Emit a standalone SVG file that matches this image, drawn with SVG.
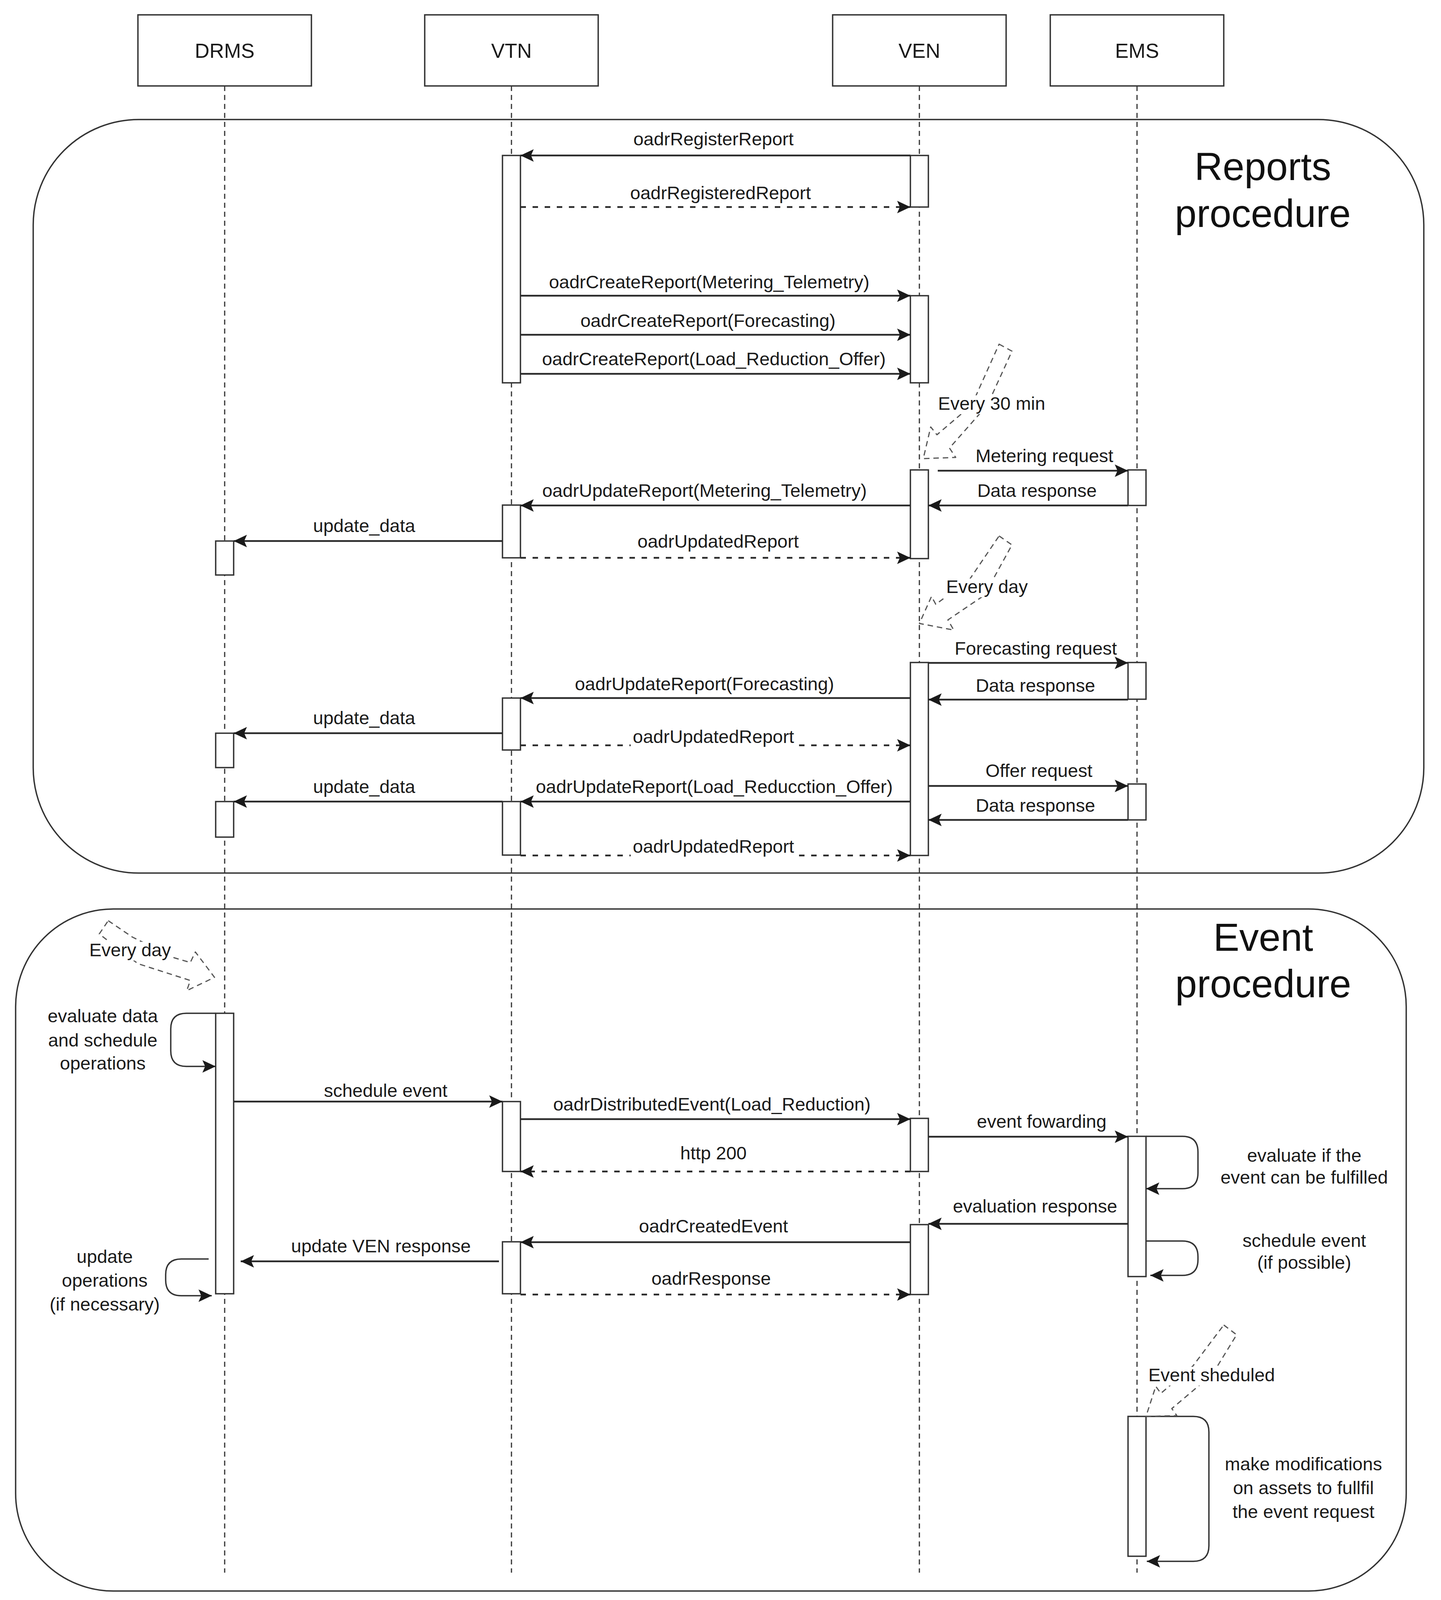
<svg xmlns="http://www.w3.org/2000/svg" width="3688" height="4113" viewBox="0 0 3688 4113">
<defs>
<marker id="arr" viewBox="0 0 34 32" refX="34" refY="16" markerWidth="34" markerHeight="32" markerUnits="userSpaceOnUse" orient="auto"><path d="M0,0 L34,16 L0,32 L7,16 z" fill="#1a1a1a"/></marker>
</defs>
<style>
.frame{fill:none;stroke:#333;stroke-width:3.5}
.box{fill:#fff;stroke:#333;stroke-width:3.5}
.act{fill:#fff;stroke:#333;stroke-width:3.5}
.life{fill:none;stroke:#333;stroke-width:3;stroke-dasharray:13 10}
.msg{fill:none;stroke:#2a2a2a;stroke-width:4.5;marker-end:url(#arr)}
.ret{fill:none;stroke:#2a2a2a;stroke-width:4.5;stroke-dasharray:14 17;marker-end:url(#arr)}
.loop{fill:none;stroke:#333;stroke-width:3.5;marker-end:url(#arr)}
.note{fill:none;stroke:#555;stroke-width:3;stroke-dasharray:14 10;stroke-linejoin:round}
.t{font-family:"Liberation Sans",Arial,sans-serif;font-size:47px;fill:#1a1a1a;text-anchor:middle}
.hdr{font-size:52px}
.big{font-size:100px;fill:#111}
.bg{fill:#fff}
</style>
<rect width="3688" height="4113" fill="#fff"/>

<g id="frames">
<rect id="reports-frame" class="frame" x="85" y="306" width="3559" height="1929" rx="270" ry="270"/>
<rect id="event-frame" class="frame" x="40" y="2327" width="3559" height="1746" rx="250" ry="250"/>
<text class="t big" x="3232" y="461">Reports</text>
<text class="t big" x="3232" y="581">procedure</text>
<text class="t big" x="3233" y="2434">Event</text>
<text class="t big" x="3233" y="2553">procedure</text>
</g>

<g id="lifelines">
<path class="life" d="M575 220 V4026"/>
<path class="life" d="M1309 220 V4026"/>
<path class="life" d="M2353 220 V4026"/>
<path class="life" d="M2910 220 V4026"/>
</g>

<g id="node-DRMS"><rect class="box" x="353" y="38" width="444" height="182"/><text class="t hdr" x="575" y="148">DRMS</text></g>
<g id="node-VTN"><rect class="box" x="1087" y="38" width="444" height="182"/><text class="t hdr" x="1309" y="148">VTN</text></g>
<g id="node-VEN"><rect class="box" x="2131" y="38" width="444" height="182"/><text class="t hdr" x="2353" y="148">VEN</text></g>
<g id="node-EMS"><rect class="box" x="2688" y="38" width="444" height="182"/><text class="t hdr" x="2910" y="148">EMS</text></g>

<g id="activations">
<rect class="act" x="1286" y="398" width="46" height="582"/>
<rect class="act" x="1286" y="1293" width="46" height="135"/>
<rect class="act" x="1286" y="1787" width="46" height="133"/>
<rect class="act" x="1286" y="2052" width="46" height="137"/>
<rect class="act" x="2330" y="398" width="46" height="132"/>
<rect class="act" x="2330" y="757" width="46" height="223"/>
<rect class="act" x="2330" y="1203" width="46" height="227"/>
<rect class="act" x="2330" y="1696" width="46" height="494"/>
<rect class="act" x="2887" y="1203" width="46" height="91"/>
<rect class="act" x="2887" y="1696" width="46" height="94"/>
<rect class="act" x="2887" y="2007" width="46" height="92"/>
<rect class="act" x="552" y="1385" width="46" height="87"/>
<rect class="act" x="552" y="1877" width="46" height="88"/>
<rect class="act" x="552" y="2052" width="46" height="91"/>
<rect class="act" x="552" y="2594" width="46" height="718"/>
<rect class="act" x="1286" y="2820" width="46" height="179"/>
<rect class="act" x="1286" y="3179" width="46" height="133"/>
<rect class="act" x="2330" y="2863" width="46" height="136"/>
<rect class="act" x="2330" y="3135" width="46" height="179"/>
<rect class="act" x="2887" y="2909" width="46" height="359"/>
<rect class="act" x="2887" y="3626" width="46" height="358"/>
</g>

<g id="connectors">
<path class="msg" d="M2330 398 H1332"/>
<path class="ret" d="M1332 530 H2330"/>
<path class="msg" d="M1332 757 H2330"/>
<path class="msg" d="M1332 857 H2330"/>
<path class="msg" d="M1332 957 H2330"/>
<path class="msg" d="M2400 1205 H2887"/>
<path class="msg" d="M2887 1294 H2376"/>
<path class="msg" d="M2330 1294 H1332"/>
<path class="msg" d="M1286 1385 H598"/>
<path class="ret" d="M1332 1428 H2330"/>
<path class="msg" d="M2376 1697 H2887"/>
<path class="msg" d="M2887 1791 H2376"/>
<path class="msg" d="M2330 1787 H1332"/>
<path class="msg" d="M1286 1877 H598"/>
<path class="ret" d="M1332 1908 H2330"/>
<path class="msg" d="M2376 2012 H2887"/>
<path class="msg" d="M2887 2099 H2376"/>
<path class="msg" d="M2330 2052 H1332"/>
<path class="msg" d="M1286 2052 H598"/>
<path class="ret" d="M1332 2190 H2330"/>
<path class="msg" d="M598 2820 H1286"/>
<path class="msg" d="M1332 2865 H2330"/>
<path class="ret" d="M2330 2999 H1332"/>
<path class="msg" d="M2376 2910 H2887"/>
<path class="msg" d="M2887 3133 H2376"/>
<path class="msg" d="M2330 3180 H1332"/>
<path class="msg" d="M1277 3229 H616"/>
<path class="ret" d="M1332 3314 H2330"/>
<path class="loop" d="M552 2594 H477 Q437 2594 437 2634 V2690 Q437 2730 477 2730 H552"/>
<path class="loop" d="M534 3223 H464 Q424 3223 424 3263 V3277 Q424 3317 464 3317 H542"/>
<path class="loop" d="M2933 2909 H3026 Q3066 2909 3066 2949 V3003 Q3066 3043 3026 3043 H2933"/>
<path class="loop" d="M2933 3177 H3026 Q3066 3177 3066 3217 V3225 Q3066 3265 3026 3265 H2944"/>
<path class="loop" d="M2933 3626 H3054 Q3094 3626 3094 3666 V3957 Q3094 3997 3054 3997 H2935"/>
</g>

<g id="annotations">
<polygon class="note" points="2557,881 2590,899 2527,1037 2430,1147 2446,1171 2363,1174 2382,1093 2398,1113 2487,1037"/>
<polygon class="note" points="2557,1372 2590,1395 2519,1524 2426,1587 2441,1613 2353,1596 2384,1527 2395,1547 2481,1484"/>
<polygon class="note" points="277,2357 339,2399 446,2452 487,2464 500,2437 549,2502 478,2536 487,2510 353,2467 254,2391"/>
<polygon class="note" points="3132,3392 3165,3417 3103,3518 2999,3606 3012,3624 2933,3626 2958,3549 2971,3567 3053,3497"/>
</g>

<g id="labels">
<text class="t" x="1826" y="372">oadrRegisterReport</text>
<text class="t" x="1844" y="510">oadrRegisteredReport</text>
<text class="t" x="1815" y="738">oadrCreateReport(Metering_Telemetry)</text>
<text class="t" x="1812" y="837">oadrCreateReport(Forecasting)</text>
<text class="t" x="1827" y="935">oadrCreateReport(Load_Reduction_Offer)</text>
<rect class="bg" x="2398" y="1012" width="280" height="48"/>
<text class="t" x="2538" y="1049">Every 30 min</text>
<text class="t" x="2673" y="1183">Metering request</text>
<text class="t" x="2654" y="1272">Data response</text>
<text class="t" x="1803" y="1272">oadrUpdateReport(Metering_Telemetry)</text>
<text class="t" x="932" y="1362">update_data</text>
<text class="t" x="1838" y="1402">oadrUpdatedReport</text>
<rect class="bg" x="2416" y="1481" width="220" height="48"/>
<text class="t" x="2526" y="1518">Every day</text>
<text class="t" x="2651" y="1676">Forecasting request</text>
<text class="t" x="2650" y="1771">Data response</text>
<text class="t" x="1803" y="1767">oadrUpdateReport(Forecasting)</text>
<text class="t" x="932" y="1854">update_data</text>
<rect class="bg" x="1614" y="1866" width="424" height="48"/>
<text class="t" x="1826" y="1902">oadrUpdatedReport</text>
<text class="t" x="2659" y="1989">Offer request</text>
<text class="t" x="2650" y="2078">Data response</text>
<text class="t" x="1828" y="2030">oadrUpdateReport(Load_Reducction_Offer)</text>
<text class="t" x="932" y="2030">update_data</text>
<rect class="bg" x="1614" y="2147" width="424" height="48"/>
<text class="t" x="1826" y="2183">oadrUpdatedReport</text>

<rect class="bg" x="223" y="2411" width="220" height="48"/>
<text class="t" x="333" y="2448">Every day</text>
<text class="t" x="263" y="2617">evaluate data</text>
<text class="t" x="263" y="2679">and schedule</text>
<text class="t" x="263" y="2738">operations</text>
<text class="t" x="987" y="2808">schedule event</text>
<text class="t" x="1822" y="2843">oadrDistributedEvent(Load_Reduction)</text>
<text class="t" x="1826" y="2968">http 200</text>
<text class="t" x="2666" y="2887">event fowarding</text>
<text class="t" x="3338" y="2974">evaluate if the</text>
<text class="t" x="3338" y="3030">event can be fulfilled</text>
<text class="t" x="2649" y="3104">evaluation response</text>
<text class="t" x="1826" y="3155">oadrCreatedEvent</text>
<text class="t" x="975" y="3206">update VEN response</text>
<text class="t" x="3338" y="3192">schedule event</text>
<text class="t" x="3338" y="3248">(if possible)</text>
<text class="t" x="268" y="3233">update</text>
<text class="t" x="268" y="3294">operations</text>
<text class="t" x="268" y="3355">(if necessary)</text>
<text class="t" x="1820" y="3289">oadrResponse</text>
<rect class="bg" x="2936" y="3499" width="330" height="48"/>
<text class="t" x="3101" y="3536">Event sheduled</text>
<text class="t" x="3336" y="3764">make modifications</text>
<text class="t" x="3336" y="3825">on assets to fullfil</text>
<text class="t" x="3336" y="3886">the event request</text>
</g>
</svg>
